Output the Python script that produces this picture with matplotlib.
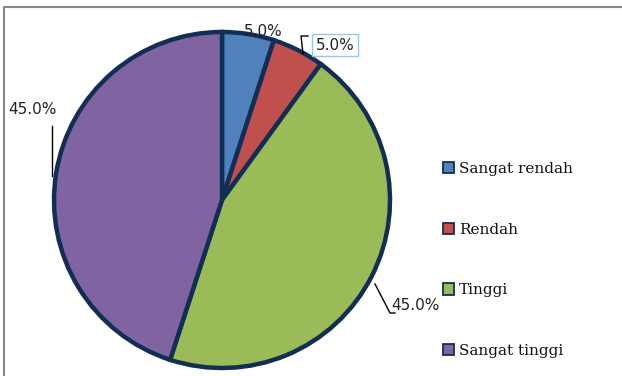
import matplotlib.pyplot as plt
from matplotlib.patches import Rectangle

categories = ['Sangat rendah', 'Rendah', 'Tinggi', 'Sangat tinggi']
values = [5.0, 5.0, 45.0, 45.0]
colors = ['#4F81BD', '#C0504D', '#9BBB59', '#8064A2']
edge = '#122E55'

fig = plt.figure(figsize=(6.22, 3.76), dpi=100)
ax = fig.add_axes([0, 0, 1, 1])

# рамка вокруг графика (видны только верх и левая сторона)
ax.plot([4, 4, 622], [0, 369, 369], color='#888888', lw=1.5, clip_on=False)

wedges, _ = ax.pie(values, colors=colors, startangle=90, counterclock=False,
                   center=(222, 176), radius=168, frame=True,
                   wedgeprops=dict(edgecolor=edge, linewidth=3.2))
ax.set_xlim(0, 622)
ax.set_ylim(0, 376)
ax.axis('off')

labels = ['%.1f%%' % v for v in values]
ax.text(263, 344, labels[0], fontsize=11, ha='center', va='center', color='#222222')
ax.text(335, 331, labels[1], fontsize=11, ha='center', va='center', color='#222222',
        bbox=dict(boxstyle='square,pad=0.25', fc='white', ec='#9DC3E6', lw=1))
ax.plot([303, 301, 308], [322, 340, 340], color='black', lw=1)
ax.text(415, 71, labels[2], fontsize=11, ha='center', va='center', color='#222222')
ax.plot([375, 390, 395], [92, 63, 63], color='black', lw=1)
ax.text(32, 266, labels[3], fontsize=11, ha='center', va='center', color='#222222')
ax.plot([52, 52], [200, 250], color='black', lw=1)

handles = [Rectangle((0, 0), 1, 1, fc=c, ec=edge, lw=1.3) for c in colors]
ax.legend(handles, categories, loc='center left', bbox_to_anchor=(429 / 622, 116 / 376),
          frameon=False, prop={'family': 'DejaVu Serif', 'size': 11},
          labelspacing=3.05, handlelength=0.75, handleheight=0.75, handletextpad=0.3,
          labelcolor='#111111')

plt.savefig('out.png', dpi=100)
